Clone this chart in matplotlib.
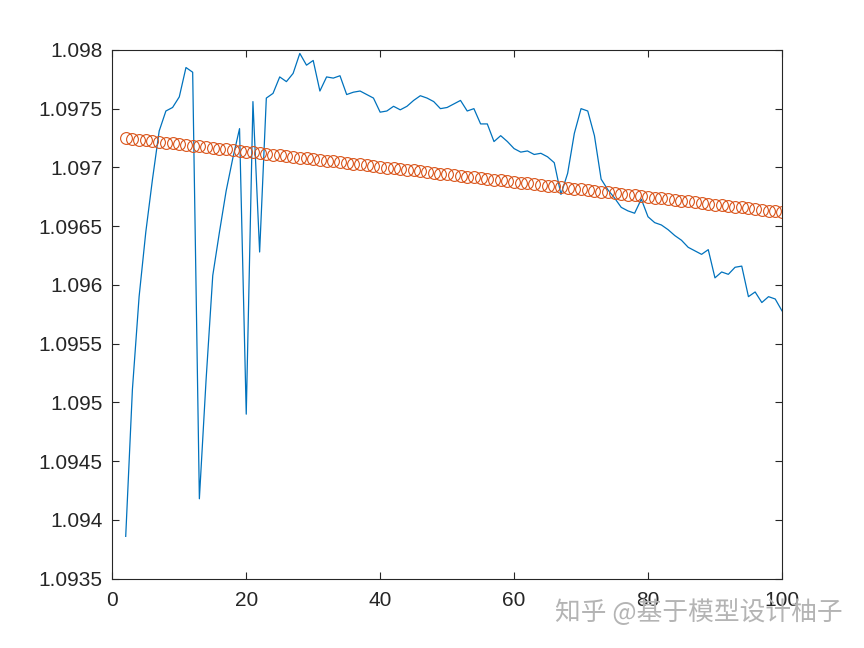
import numpy as np
import matplotlib
matplotlib.use('Agg')
import matplotlib.pyplot as plt
from matplotlib.ticker import FuncFormatter

# измеренные значения (синяя линия), x = 2..100
x_vals = list(range(2, 101))
measured = [
    1.09386, 1.09511, 1.09590, 1.09645, 1.09690, 1.09731, 1.09748, 1.09751, 1.09760,
    1.09785, 1.09781, 1.09418, 1.09519, 1.09608, 1.09645, 1.09680, 1.09708, 1.09733,
    1.09490, 1.09756, 1.09628, 1.09759, 1.09763, 1.09777, 1.09773, 1.09780, 1.09797,
    1.09787, 1.09791, 1.09765, 1.09777, 1.09776, 1.09778, 1.09762, 1.09764, 1.09765,
    1.09762, 1.09759, 1.09747, 1.09748, 1.09752, 1.09749, 1.09752, 1.09757, 1.09761,
    1.09759, 1.09756, 1.09750, 1.09751, 1.09754, 1.09757, 1.09748, 1.09750, 1.09737,
    1.09737, 1.09722, 1.09727, 1.09722, 1.09716, 1.09713, 1.09714, 1.09711, 1.09712,
    1.09709, 1.09704, 1.09677, 1.09695, 1.09729, 1.09750, 1.09748, 1.09727, 1.09690,
    1.09681, 1.09674, 1.09666, 1.09663, 1.09661, 1.09673, 1.09658, 1.09653, 1.09651,
    1.09647, 1.09642, 1.09638, 1.09632, 1.09629, 1.09626, 1.09630, 1.09606, 1.09611,
    1.09609, 1.09615, 1.09616, 1.09590, 1.09594, 1.09585, 1.09590, 1.09588, 1.09578,
]

# оценка (оранжевые кружки)
estimated = [
    1.097250, 1.097244, 1.097237, 1.097231, 1.097224, 1.097218, 1.097211, 1.097205,
    1.097199, 1.097192, 1.097186, 1.097179, 1.097173, 1.097166, 1.097160, 1.097154,
    1.097147, 1.097141, 1.097134, 1.097128, 1.097121, 1.097115, 1.097109, 1.097102,
    1.097096, 1.097089, 1.097083, 1.097076, 1.097070, 1.097064, 1.097057, 1.097051,
    1.097044, 1.097038, 1.097031, 1.097025, 1.097019, 1.097012, 1.097006, 1.096999,
    1.096993, 1.096986, 1.096980, 1.096974, 1.096967, 1.096961, 1.096954, 1.096948,
    1.096941, 1.096935, 1.096929, 1.096922, 1.096916, 1.096909, 1.096903, 1.096896,
    1.096890, 1.096884, 1.096877, 1.096871, 1.096864, 1.096858, 1.096851, 1.096845,
    1.096839, 1.096832, 1.096826, 1.096819, 1.096813, 1.096806, 1.096800, 1.096794,
    1.096787, 1.096781, 1.096774, 1.096768, 1.096761, 1.096755, 1.096749, 1.096742,
    1.096736, 1.096729, 1.096723, 1.096716, 1.096710, 1.096704, 1.096697, 1.096691,
    1.096684, 1.096678, 1.096671, 1.096665, 1.096659, 1.096652, 1.096646, 1.096639,
    1.096633, 1.096626, 1.096620,
]

x_ticks = [0, 20, 40, 60, 80, 100]
y_ticks = [1.0935, 1.094, 1.0945, 1.095, 1.0955, 1.096, 1.0965, 1.097, 1.0975, 1.098]
watermark = '知乎 @基于模型设计柚子'


def main():
    plt.rcParams['font.family'] = ['Liberation Sans', 'DejaVu Sans']
    fig = plt.figure(figsize=(8.64, 6.48), dpi=100)
    ax = fig.add_axes([0.13, 0.107, 0.775, 0.816])

    ax.plot(x_vals, measured, color='#0072BD', linewidth=0.9)
    ax.plot(x_vals, estimated, linestyle='none', marker='o', markersize=8.5,
            markerfacecolor='none', markeredgecolor='#D95319', markeredgewidth=0.8)

    ax.set_xlim(0, 100)
    ax.set_ylim(1.0935, 1.098)
    ax.set_xticks(x_ticks)
    ax.set_yticks(y_ticks)
    ax.yaxis.set_major_formatter(FuncFormatter(lambda v, p: '{:g}'.format(round(v, 5))))
    ax.tick_params(direction='in', length=5, width=0.8, color='#262626',
                   labelsize=15, top=True, right=True, labelcolor='#262626')
    ax.tick_params(axis='y', pad=7)
    ax.tick_params(axis='x', pad=9)
    for s in ax.spines.values():
        s.set_color('#262626')
        s.set_linewidth(0.8)

    # водяной знак
    fig.text(0.642, 0.055, watermark, fontsize=18.5, color='#b4b4b4',
             family=['Noto Sans CJK SC', 'DejaVu Sans'], va='center', ha='left')

    fig.savefig('out.png', dpi=100)


if __name__ == '__main__':
    main()
